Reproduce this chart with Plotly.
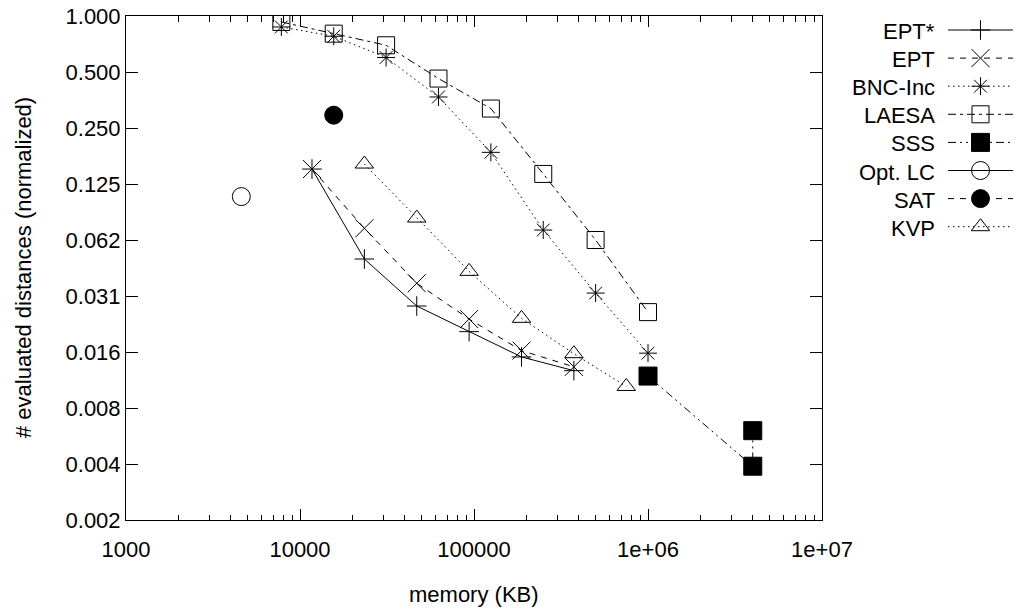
import math
import plotly.graph_objects as go

# ---------------- data ----------------
ept_star_mem = [11718.75, 23437.5, 46875, 93750, 187500, 375000]
ept_star_dist = [0.1504, 0.0494, 0.0276, 0.0201, 0.0147, 0.0124]

ept_mem = [11718.75, 23437.5, 46875, 93750, 187500, 375000]
ept_dist = [0.1504, 0.0722, 0.0366, 0.0235, 0.0159, 0.0130]

bnc_mem = [7812.5, 15625, 31250, 62500, 125000, 250000, 500000, 1000000]
bnc_dist = [0.873, 0.778, 0.598, 0.367, 0.185, 0.0707, 0.0324, 0.0154]

laesa_mem = [7812.5, 15625, 31250, 62500, 125000, 250000, 500000, 1000000]
laesa_dist = [0.929, 0.804, 0.696, 0.461, 0.318, 0.1416, 0.0625, 0.0256]

sss_mem = [1000000, 4000000, 4000000]
sss_dist = [0.0116, 0.0038, 0.0059]

optlc_mem = [4600]
optlc_dist = [0.107]

sat_mem = [15625]
sat_dist = [0.293]

kvp_mem = [23437.5, 46875, 93750, 187500, 375000, 750000]
kvp_dist = [0.160, 0.0820, 0.0424, 0.0237, 0.0153, 0.0102]

x_tick_vals = [1e3, 1e4, 1e5, 1e6, 1e7]
x_tick_text = ["1000", "10000", "100000", "1e+06", "1e+07"]
y_tick_vals = [2.0 ** -k for k in range(9, -1, -1)]
y_tick_text = ["0.002", "0.004", "0.008", "0.016", "0.031", "0.062",
               "0.125", "0.250", "0.500", "1.000"]

# ---------------- styles ----------------
series = [
    ("EPT*", ept_star_mem, ept_star_dist, dict(symbol="cross-thin-open", size=14), "solid"),
    ("EPT", ept_mem, ept_dist, dict(symbol="x-thin-open", size=18), "6px,6px"),
    ("BNC-Inc", bnc_mem, bnc_dist, dict(symbol="asterisk-open", size=15), "1.5px,3.5px"),
    ("LAESA", laesa_mem, laesa_dist, dict(symbol="square-open", size=17), "8px,4px,3px,4px"),
    ("SSS", sss_mem, sss_dist, dict(symbol="square", size=18), "8px,4px,2px,4px,2px,4px"),
    ("Opt. LC", optlc_mem, optlc_dist, dict(symbol="circle-open", size=18), "solid"),
    ("SAT", sat_mem, sat_dist, dict(symbol="circle", size=18), "6px,6px"),
    ("KVP", kvp_mem, kvp_dist, dict(symbol="triangle-up-open", size=16), "1.5px,3.5px"),
]

FONT = "Liberation Sans, Arial, Helvetica, sans-serif"
FS = 22
W, H = 1018, 610
ML, MR, MT, MB = 126, 5, 16, 90
PLOT_R = 822
paper_w = W - ML - MR
paper_h = H - MT - MB
main_dom = (PLOT_R - ML) / paper_w

fig = go.Figure()

for name, xs, ys, mk, dash in series:
    fig.add_trace(go.Scatter(
        x=xs, y=ys, mode="lines+markers", name=name, showlegend=False,
        line=dict(color="black", width=1, dash=dash),
        marker=dict(symbol=mk["symbol"], size=mk["size"], color="black",
                    line=dict(color="black", width=1)),
        xaxis="x", yaxis="y",
    ))

# ---------------- custom legend (gnuplot style: text left, sample right) ----------------
row_top = 30.0
row_step = 28.1
sample_l, sample_r = 948, 1013
text_r = 937
annotations = []
for i, (name, xs, ys, mk, dash) in enumerate(series):
    ry = row_top + i * row_step - MT
    fig.add_trace(go.Scatter(
        x=[0, 1], y=[ry, ry], mode="lines", showlegend=False, hoverinfo="skip",
        line=dict(color="black", width=1, dash=dash), xaxis="x2", yaxis="y2"))
    fig.add_trace(go.Scatter(
        x=[0.5], y=[ry], mode="markers", showlegend=False, hoverinfo="skip",
        marker=dict(symbol=mk["symbol"], size=mk["size"], color="black",
                    line=dict(color="black", width=1)),
        xaxis="x2", yaxis="y2"))
    annotations.append(dict(
        text=name, xref="paper", yref="y2", x=(text_r - ML) / paper_w, y=ry + 1.5,
        xanchor="right", yanchor="middle", showarrow=False,
        font=dict(family=FONT, size=FS, color="black")))

# axis titles
annotations.append(dict(
    text="memory (KB)", xref="paper", yref="paper",
    x=(474 - ML) / paper_w, y=-(594 - (H - MB)) / paper_h,
    xanchor="center", yanchor="middle", showarrow=False,
    font=dict(family=FONT, size=FS, color="black")))
annotations.append(dict(
    text="# evaluated distances (normalized)", xref="paper", yref="paper",
    x=(23 - ML) / paper_w, y=0.5, textangle=-90,
    xanchor="center", yanchor="middle", showarrow=False,
    font=dict(family=FONT, size=FS, color="black")))

minor_x = [m * 10 ** e for e in range(3, 7) for m in range(2, 10)]

fig.update_layout(
    template="none",
    width=W, height=H, autosize=False,
    margin=dict(l=ML, r=MR, t=MT, b=MB, pad=0, autoexpand=False),
    paper_bgcolor="white", plot_bgcolor="white",
    font=dict(family=FONT, size=FS, color="black"),
    showlegend=False,
    annotations=annotations,
    xaxis=dict(
        type="log", range=[3, 7], domain=[0, main_dom], automargin=False,
        tickvals=x_tick_vals, ticktext=x_tick_text, ticklabelstandoff=10,
        ticks="inside", ticklen=11, tickwidth=1, tickcolor="black",
        showline=True, linecolor="black", linewidth=1, mirror="ticks",
        showgrid=False, zeroline=False,
        minor=dict(tickvals=minor_x, ticks="inside", ticklen=5.5,
                   tickwidth=1, tickcolor="black", showgrid=False),
        tickfont=dict(family=FONT, size=FS, color="black"),
    ),
    yaxis=dict(
        type="log", range=[math.log10(2.0 ** -9), 0], domain=[0, 1], automargin=False,
        tickvals=y_tick_vals, ticktext=y_tick_text,
        ticks="inside", ticklen=12, tickwidth=1, tickcolor="black",
        showline=True, linecolor="black", linewidth=1, mirror="ticks",
        showgrid=False, zeroline=False,
        tickfont=dict(family=FONT, size=FS, color="black"),
    ),
    xaxis2=dict(domain=[(sample_l - ML) / paper_w, (sample_r - ML) / paper_w],
                range=[0, 1], visible=False, fixedrange=True, anchor="y2",
                automargin=False),
    yaxis2=dict(domain=[0, 1], range=[paper_h, 0], visible=False,
                fixedrange=True, anchor="x2", automargin=False),
)

fig.write_html("out.html")
